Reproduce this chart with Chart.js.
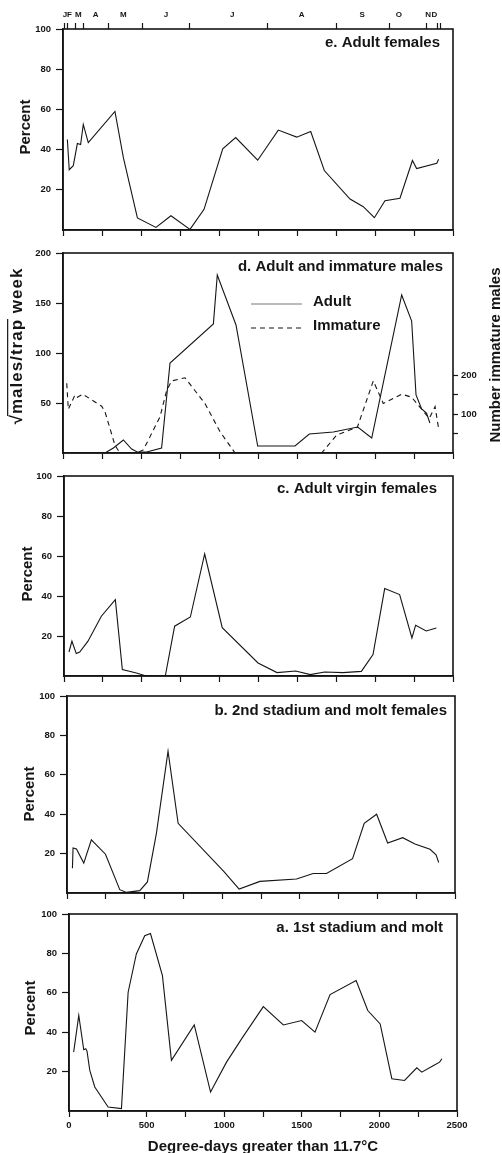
<!DOCTYPE html>
<html><head><meta charset="utf-8">
<script src="https://cdn.jsdelivr.net/npm/chart.js@4.4.1/dist/chart.umd.min.js"></script>
<style>
html,body{margin:0;padding:0;background:#fff;}
body{width:502px;height:1153px;position:relative;overflow:hidden;}
canvas{position:absolute;left:0;top:0;}
</style></head><body>
<canvas id="cE" width="502" height="1153"></canvas>
<canvas id="cD" width="502" height="1153"></canvas>
<canvas id="cC" width="502" height="1153"></canvas>
<canvas id="cB" width="502" height="1153"></canvas>
<canvas id="cA" width="502" height="1153"></canvas>
<script>
// ---------- tick labels / categories ----------
const xTickValues = [0,250,500,750,1000,1250,1500,1750,2000,2250,2500];
const xLabelValues = [0,500,1000,1500,2000,2500];
const pctTicks = [20,40,60,80,100];
const maleTicks = [50,100,150,200];
const immTicks = [50,100,150,200];
const immLabels = [100,200];
const monthNames = ['J','F','M','A','M','J','J','A','S','O','N','D'];
const monthLabelDD = [12,42,98,210,387,660,1085,1530,1918,2153,2341,2380];
const monthBoundDD = [8,28,81,130,290,508,814,1312,1750,2096,2331,2402,2423];

// ---------- series ----------
const eX = [28,40,66,92,113,130,162,333,387,477,596,692,814,904,1024,1107,1248,1380,1498,1588,1675,1840,1925,1996,2064,2160,2240,2267,2396,2408];
const eY = [45,30,32,43,42.5,52.5,43.5,59,36,6,1.3,7.1,0.3,10.3,40.4,46,34.7,49.7,46.2,49,29.6,15.4,11.6,6.1,14.6,15.8,34.6,30.6,33.2,35.2];

const dAdultX = [28,269,323,387,440,476,536,632,686,964,989,1109,1248,1487,1579,1733,1889,1979,2171,2235,2263,2299,2330,2352];
const dAdultY = [0,0,5,13,4,1,1,5,90,129,178,128,7,7,19,21,26,15,158,132,58,44,40,30];
const dImmX = [24,34,77,92,126,248,269,333,365,470,515,558,622,665,697,782,910,1006,1103,1658,1754,1887,1989,2053,2171,2235,2289,2348,2385,2406];
const dImmY = [179,112,149,143,151,120,106,20,0,0,8,42,93,161,185,193,127,55,0,0,46,66,185,127,151,143,117,89,119,67];

const cX = [32,51,79,101,154,240,330,375,465,529,651,711,812,904,1017,1247,1369,1489,1583,1675,1793,1911,1986,2061,2157,2236,2260,2328,2393];
const cY = [12,17.4,11.2,12,17.4,29.9,38.2,3.2,1.5,0,0,24.9,29.5,61,24.2,6.5,1.7,2.5,0.7,2,1.7,2.3,10.7,43.7,40.7,19,25.4,22.5,24];

const bX = [35,39,61,108,157,248,340,383,469,518,576,651,716,1010,1109,1243,1479,1586,1672,1840,1915,1995,2066,2163,2242,2339,2378,2395];
const bY = [12.6,22.8,22.3,15.2,27,19.7,1.7,0.3,1.2,5.6,30.3,72,35.4,11,2,5.9,7.1,9.9,9.9,17.4,35.4,40,25.4,28.1,24.9,22.2,19.4,15.5];

const aX = [30,63,95,108,116,134,166,252,338,381,434,488,525,602,660,807,912,1015,1112,1252,1381,1499,1585,1682,1850,1925,2005,2080,2162,2241,2273,2349,2388,2403];
const aY = [29.9,48.5,31.1,31.6,30.4,20.6,12.2,2,1.2,60.3,79.7,89,90.1,68.7,25.7,43.7,9.6,24.8,36.6,53,43.7,45.9,40,59.1,66.2,51,44.2,16.4,15.5,21.9,19.7,23.1,24.8,26.5];

// ---------- helpers ----------
const INK = '#151515';
const FAM = '"Liberation Sans", Arial, Helvetica, sans-serif';
const tickFont = {family: FAM, size: 9.5, weight: 'bold'};
const pts = (xs, ys) => xs.map((x, i) => ({x: x, y: ys[i]}));

const textPlugin = {
  id: 'panelText',
  afterDraw(chart, args, opts) {
    const ctx = chart.ctx, ca = chart.chartArea;
    ctx.save();
    ctx.strokeStyle = INK; ctx.lineWidth = 1.6;
    ctx.strokeRect(ca.left, ca.top, ca.right - ca.left, ca.bottom - ca.top);
    ctx.fillStyle = INK;
    (opts.texts || []).forEach(t => {
      ctx.save();
      const sz = t.size || 15;
      ctx.font = 'bold ' + sz + 'px ' + FAM;
      if (t.spacing) ctx.letterSpacing = t.spacing + 'px';
      ctx.textAlign = t.align || 'center';
      ctx.textBaseline = 'middle';
      ctx.translate(t.x, t.y);
      if (t.rot) ctx.rotate(t.rot);
      ctx.fillText(t.text, 0, 0);
      if (t.overline) {
        const full = ctx.measureText(t.text).width;
        const w0 = ctx.measureText(t.overline[0]).width;
        const w1 = ctx.measureText(t.overline[1]).width;
        const start = -full / 2;
        ctx.strokeStyle = INK; ctx.lineWidth = 1.2;
        ctx.beginPath();
        ctx.moveTo(start + w0 - 2, -sz * 0.55);
        ctx.lineTo(start + w0 + w1, -sz * 0.55);
        ctx.stroke();
      }
      ctx.restore();
    });
    if (opts.legend) {
      const lg = opts.legend;
      chart.data.datasets.forEach((ds, i) => {
        const y = lg.y + i * lg.gap;
        ctx.save();
        ctx.strokeStyle = i === 0 ? '#777' : INK;
        ctx.lineWidth = 1.1;
        ctx.setLineDash(ds.borderDash || []);
        ctx.beginPath(); ctx.moveTo(lg.x0, y); ctx.lineTo(lg.x1, y); ctx.stroke();
        ctx.restore();
        ctx.font = 'bold 15px ' + FAM;
        ctx.textAlign = 'left'; ctx.textBaseline = 'middle';
        ctx.fillText(ds.label, lg.tx, y - 2);
      });
    }
    ctx.restore();
  }
};

function axisGrid(len) {
  return {display: true, drawOnChartArea: false, drawTicks: true, tickLength: len, tickColor: INK, tickWidth: 1.2};
}

function panel(id, o) {
  const yW = 40, xH = o.xLabels ? 22 : 10, tH = o.months ? 22 : 0, rW = o.right ? 42 : 0;
  const scales = {
    x: {
      type: 'linear', position: 'bottom', min: 0, max: 2500,
      afterBuildTicks: s => { s.ticks = xTickValues.map(v => ({value: v})); },
      afterFit: s => { s.height = xH; },
      grid: axisGrid(6),
      border: {display: true, color: INK, width: 1.6},
      ticks: {display: !!o.xLabels, autoSkip: false, maxRotation: 0, padding: 3, color: INK, font: tickFont,
        callback: v => xLabelValues.includes(v) ? String(v) : ''}
    },
    y: {
      type: 'linear', position: 'left', min: 0, max: o.yMax,
      afterBuildTicks: s => { s.ticks = o.yTicks.map(v => ({value: v})); },
      afterFit: s => { s.width = yW; },
      grid: axisGrid(7),
      border: {display: true, color: INK, width: 1.6},
      ticks: {padding: 5, color: INK, font: tickFont, callback: v => String(v)}
    }
  };
  if (o.right) {
    scales.y2 = {
      type: 'linear', position: 'right', min: 0, max: o.right.max,
      afterBuildTicks: s => { s.ticks = o.right.ticks.map(v => ({value: v})); },
      afterFit: s => { s.width = rW; },
      grid: axisGrid(5),
      border: {display: false},
      ticks: {padding: 3, color: INK, font: tickFont, callback: v => o.right.labels.includes(v) ? String(v) : ''}
    };
  }
  if (o.months) {
    const all = monthBoundDD.concat(monthLabelDD).sort((a, b) => a - b);
    scales.xm = {
      type: 'linear', position: 'top', min: 0, max: 2500,
      afterBuildTicks: s => { s.ticks = all.map(v => ({value: v})); },
      afterFit: s => { s.height = tH; },
      grid: {display: true, drawOnChartArea: false, drawTicks: true, tickLength: 6, tickWidth: 1.2,
        tickColor: c => (c.tick && monthBoundDD.includes(c.tick.value)) ? INK : 'rgba(0,0,0,0)'},
      border: {display: false},
      ticks: {autoSkip: false, maxRotation: 0, padding: 3, color: INK, font: {family: FAM, size: 8, weight: 'bold'},
        callback: v => { const k = monthLabelDD.indexOf(v); return k >= 0 ? monthNames[k] : ''; }}
    };
  }
  const padding = {
    left: o.L - yW,
    right: 502 - o.R - rW,
    top: o.T - tH,
    bottom: 1153 - o.B - xH
  };
  return new Chart(document.getElementById(id), {
    type: 'line',
    data: {datasets: o.datasets},
    options: {
      responsive: false, animation: false, devicePixelRatio: 1,
      layout: {padding: padding},
      scales: scales,
      elements: {point: {radius: 0}, line: {tension: 0, borderWidth: 1.1, borderColor: INK}},
      plugins: {legend: {display: false}, tooltip: {enabled: false}, title: {display: false},
        panelText: {texts: o.texts, legend: o.legend}}
    },
    plugins: [textPlugin]
  });
}

const lineDs = (label, data, extra) => Object.assign({label: label, data: data, borderColor: INK, borderWidth: 1.1,
  pointRadius: 0, fill: false, xAxisID: 'x', yAxisID: 'y'}, extra || {});

panel('cE', {L: 63, R: 453, T: 29, B: 230, yMax: 100, yTicks: pctTicks, months: true,
  datasets: [lineDs('Adult females', pts(eX, eY))],
  texts: [{text: 'e. Adult females', x: 440, y: 43, align: 'right'},
          {text: 'Percent', x: 26, y: 127, rot: -Math.PI / 2}]});

panel('cD', {L: 63, R: 453, T: 253, B: 453, yMax: 200, yTicks: maleTicks,
  right: {max: 513, ticks: immTicks, labels: immLabels},
  datasets: [lineDs('Adult', pts(dAdultX, dAdultY)),
             lineDs('Immature', pts(dImmX, dImmY), {yAxisID: 'y2', borderDash: [5, 4]})],
  legend: {x0: 251, x1: 302, tx: 313, y: 304, gap: 24},
  texts: [{text: 'd. Adult and immature males', x: 443, y: 267, align: 'right'},
          {text: '\u221Amales/trap week', x: 17, y: 346, size: 17, spacing: 1, rot: -Math.PI / 2, overline: ['\u221A', 'males/trap']},
          {text: 'Number immature males', x: 496, y: 355, rot: -Math.PI / 2}]});

panel('cC', {L: 64, R: 453, T: 476, B: 676, yMax: 100, yTicks: pctTicks,
  datasets: [lineDs('Adult virgin females', pts(cX, cY))],
  texts: [{text: 'c. Adult virgin females', x: 437, y: 489, align: 'right'},
          {text: 'Percent', x: 28, y: 574, rot: -Math.PI / 2}]});

panel('cB', {L: 67, R: 455, T: 696, B: 893, yMax: 100, yTicks: pctTicks,
  datasets: [lineDs('2nd stadium and molt females', pts(bX, bY))],
  texts: [{text: 'b. 2nd stadium and molt females', x: 447, y: 711, align: 'right'},
          {text: 'Percent', x: 30, y: 794, rot: -Math.PI / 2}]});

panel('cA', {L: 69, R: 457, T: 914, B: 1111, yMax: 100, yTicks: pctTicks, xLabels: true,
  datasets: [lineDs('1st stadium and molt', pts(aX, aY))],
  texts: [{text: 'a. 1st stadium and molt', x: 443, y: 928, align: 'right'},
          {text: 'Percent', x: 31, y: 1008, rot: -Math.PI / 2},
          {text: 'Degree-days greater than 11.7\u00B0C', x: 263, y: 1147}]});
</script>
</body></html>
